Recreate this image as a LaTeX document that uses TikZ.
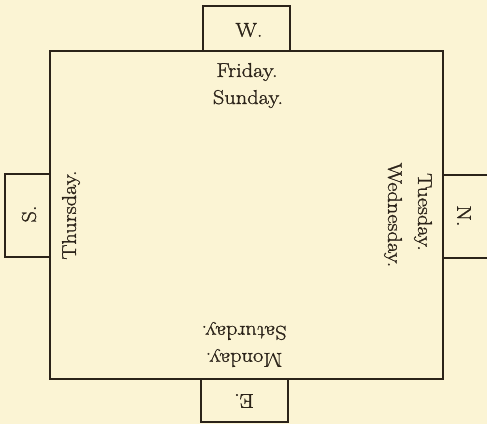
\documentclass[tikz,border=0pt]{standalone}
\usepackage{fontspec}
\usepackage{tikz}
\newfontfamily\dayfont{Latin Modern Roman}[FakeStretch=1.12,FakeBold=1.2]
\definecolor{paper}{HTML}{FBF4D4}
\definecolor{ink}{HTML}{2B2319}
\begin{document}
\begin{tikzpicture}[x=1pt,y=-1pt,
  frame/.style={draw=ink,line width=2.2pt,line join=miter},
  tab/.style={draw=ink,line width=1.8pt},
  lbl/.style={text=ink,inner sep=0pt,font=\dayfont\fontsize{20}{22}\selectfont}]
\fill[paper] (0,0) rectangle (487,424);
\useasboundingbox (0,0) rectangle (487,424);
% main room
\draw[frame] (50,51) rectangle (443,379);
% tabs
\draw[tab] (203,51) -- (203,6) -- (290,6) -- (290,51);
\draw[tab] (50,174) -- (5,174) -- (5,257) -- (50,257);
\draw[tab] (443,175) -- (490,175);
\draw[tab] (443,258) -- (490,258);
\draw[tab] (201,379) -- (201,422) -- (288,422) -- (288,379);
% compass labels
\node[lbl] (w) at (249,30) {W.};
\node[lbl,rotate=90] (s) at (29,214) {S.};
\node[lbl,rotate=-90] (n) at (464,216) {N.};
\node[lbl,rotate=180] (e) at (244,401) {E.};
% days
\node[lbl] (fri) at (247,72) {Friday.};
\node[lbl] (sun) at (248,99) {Sunday.};
\node[lbl,rotate=90] (thu) at (71,215) {Thursday.};
\node[lbl,rotate=-90] (tue) at (423,212) {Tuesday.};
\node[lbl,rotate=-90] (wed) at (393,215) {Wednesday.};
\node[lbl,rotate=180] (sat) at (244,331) {Saturday.};
\node[lbl,rotate=180] (mon) at (244,358) {Monday.};
\end{tikzpicture}
\end{document}
